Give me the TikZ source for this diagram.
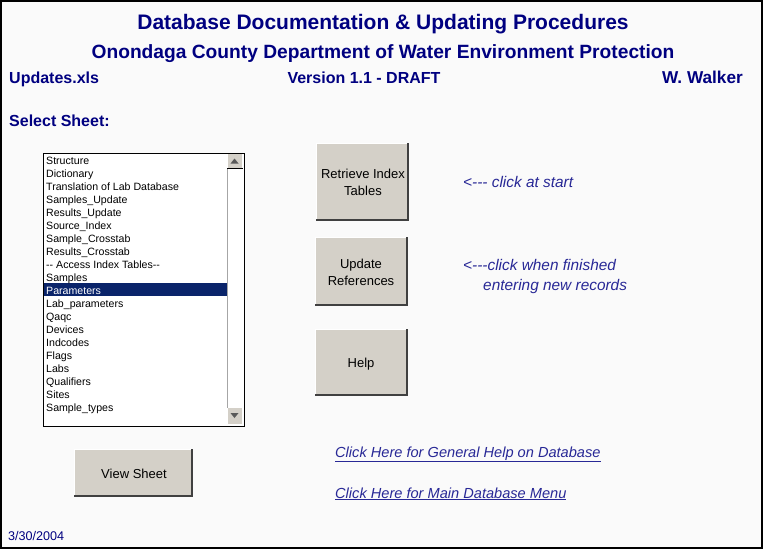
\documentclass[tikz,border=0pt]{standalone}
\usepackage{fontspec}
\setmainfont{Liberation Sans}
\definecolor{navy}{RGB}{0,0,128}
\definecolor{note}{RGB}{40,40,150}
\definecolor{btn}{RGB}{212,208,200}
\definecolor{btnshadow}{RGB}{64,64,64}
\definecolor{selbg}{RGB}{10,36,106}
\begin{document}
\begin{tikzpicture}[x=1pt,y=-1pt,
  hdr/.style={font=\bfseries\fontsize{16}{18}\selectfont, text=navy, inner sep=0pt},
  item/.style={font=\fontsize{10.6}{12}\selectfont, inner sep=0pt, anchor=base west},
  btnlabel/.style={font=\fontsize{13}{15}\selectfont, inner sep=0pt, anchor=base, text=black},
  notetext/.style={font=\itshape\fontsize{15.4}{17}\selectfont, text=note, inner sep=0pt, anchor=base west},
  linktext/.style={notetext, font=\itshape\fontsize{14.6}{17}\selectfont},
  buttonbox/.style={fill=btn, draw=none, inner sep=0pt}
]
\useasboundingbox (0,0) rectangle (763,549);
% background and frame
\fill[white!98!black] (0,0) rectangle (763,549);
\draw[black, line width=2pt] (1,1) rectangle (762,548);

% titles
\node[hdr, font=\bfseries\fontsize{21}{23}\selectfont, anchor=base] (title) at (383,29) {Database Documentation \& Updating Procedures};
\node[hdr, font=\bfseries\fontsize{19.2}{21}\selectfont, anchor=base] (subtitle) at (383,58) {Onondaga County Department of Water Environment Protection};
\node[hdr, anchor=base west] (file) at (9,83) {Updates.xls};
\node[hdr, anchor=base] (version) at (364,83) {Version 1.1 - DRAFT};
\node[hdr, font=\bfseries\fontsize{17.2}{19}\selectfont, anchor=base east] (author) at (743,83) {W. Walker};
\node[hdr, anchor=base west] (select) at (9,126) {Select Sheet:};

% list box
\node[draw=black, line width=1.2pt, fill=white, minimum width=201pt, minimum height=273pt, inner sep=0pt, anchor=north west] (list) at (42.5,152.5) {};
\fill[selbg] (43.5,283) rectangle (227,296);
\node[item] (i1) at (46,164) {Structure};
\node[item] (i2) at (46,177) {Dictionary};
\node[item] (i3) at (46,190) {Translation of Lab Database};
\node[item] (i4) at (46,203) {Samples\_Update};
\node[item] (i5) at (46,216) {Results\_Update};
\node[item] (i6) at (46,229) {Source\_Index};
\node[item] (i7) at (46,242) {Sample\_Crosstab};
\node[item] (i8) at (46,255) {Results\_Crosstab};
\node[item] (i9) at (46,268) {{-}{-} Access Index Tables{-}{-}};
\node[item] (i10) at (46,281) {Samples};
\node[item, text=white] (i11) at (46,294) {Parameters};
\node[item] (i12) at (46,307) {Lab\_parameters};
\node[item] (i13) at (46,320) {Qaqc};
\node[item] (i14) at (46,333) {Devices};
\node[item] (i15) at (46,346) {Indcodes};
\node[item] (i16) at (46,359) {Flags};
\node[item] (i17) at (46,372) {Labs};
\node[item] (i18) at (46,385) {Qualifiers};
\node[item] (i19) at (46,398) {Sites};
\node[item] (i20) at (46,411) {Sample\_types};
% scroll bar
\draw[gray!70, line width=1pt] (227,168) -- (227,408);
\fill[btn] (227.5,153.5) rectangle (242,168);
\draw[black, line width=1pt] (227,168.5) -- (242.5,168.5);
\fill[gray!70!black] (230.5,163.5) -- (238.5,163.5) -- (234.5,158.5) -- cycle;
\fill[btn] (227.5,408) rectangle (242,424);
\fill[gray!70!black] (230.5,413) -- (238.5,413) -- (234.5,418) -- cycle;

% buttons
\newcommand{\winbutton}[5]{%
  \node[buttonbox, minimum width=#3pt, minimum height=#4pt, anchor=north west] (#5) at (#1,#2) {};
  \draw[white, line width=1pt] (#5.south west) ++(0.5,-1) |- ([xshift=-1pt]#5.north east);
  \draw[btnshadow, line width=2pt] ([yshift=1pt]#5.south west) -- ([xshift=-1pt,yshift=1pt]#5.south east) -- ([xshift=-1pt]#5.north east);
}
\winbutton{316}{143}{93}{78}{retrieve}
\winbutton{315}{237}{93}{69}{update}
\winbutton{315}{329}{93}{67}{help}
\winbutton{74}{449}{119}{48}{view}
\node[btnlabel] (retrieveA) at (363,178) {Retrieve Index};
\node[btnlabel] (retrieveB) at (363,195) {Tables};
\node[btnlabel] (updateA) at (361,268) {Update};
\node[btnlabel] (updateB) at (361,285) {References};
\node[btnlabel] (helpT) at (361,367) {Help};
\node[btnlabel] (viewT) at (134,478) {View Sheet};

% notes
\node[notetext] (n1) at (463,187) {<{-}{-}{-} click at start};
\node[notetext] (n2) at (463,270) {<{-}{-}{-}click when finished};
\node[notetext] (n3) at (483,290) {entering new records};
\node[linktext] (link1) at (335,457) {\underline{Click Here for General Help on Database}};
\node[linktext] (link2) at (335,498) {\underline{Click Here for Main Database Menu}};
\node[inner sep=0pt, anchor=base west, text=navy, font=\fontsize{12.6}{14}\selectfont] (date) at (8,540) {3/30/2004};
\end{tikzpicture}
\end{document}
